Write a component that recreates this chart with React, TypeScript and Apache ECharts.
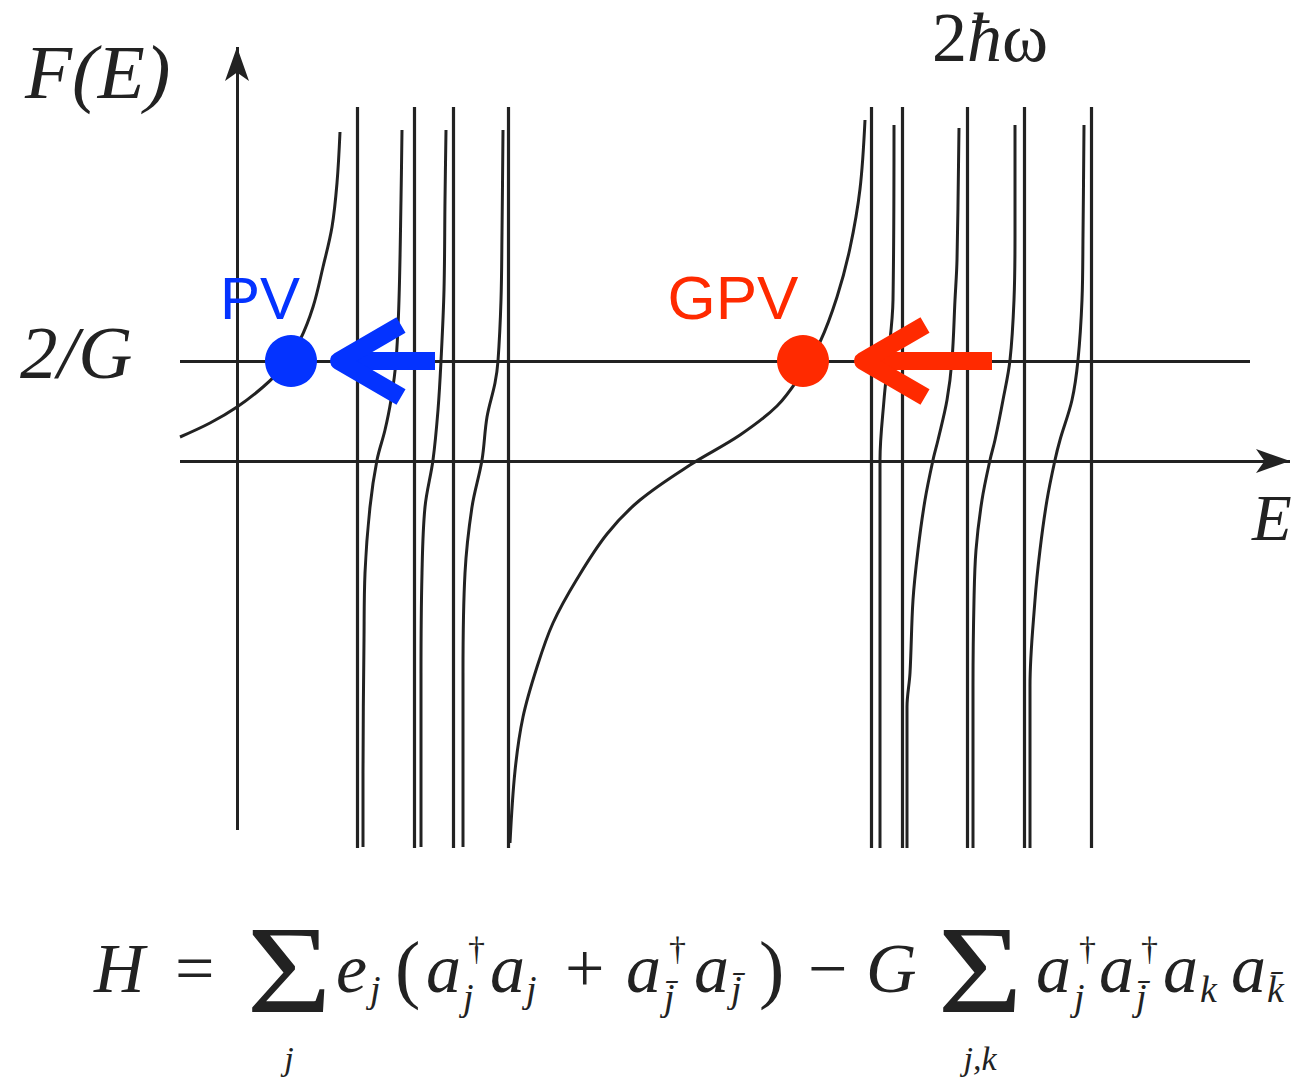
import React, { useEffect, useRef } from "react";
import * as echarts from "echarts";

// ---- data (E in units of 100 px along the energy axis, F in units where 2/G = 2) ----
const poleE = [1.2, 1.77, 2.16, 2.71, 6.34, 6.65, 7.3, 7.87, 8.54];
const poleTop = 7.08;
const poleBottom = -7.74;

const branch0 = [
  [-0.57, 0.48], [-0.27, 0.76], [0.0, 1.08], [0.26, 1.48], [0.46, 1.88], [0.63, 2.42],
  [0.76, 3.08], [0.86, 3.88], [0.95, 4.68], [1.0, 5.56], [1.03, 6.58],
];
const branch1 = [
  [1.26, -7.72], [1.26, -6.24], [1.27, -3.58], [1.28, -2.24], [1.33, -0.92], [1.4, 0.02],
  [1.48, 0.62], [1.54, 1.22], [1.59, 2.0], [1.62, 3.22], [1.64, 5.22], [1.65, 6.62],
];
const branch2 = [
  [1.84, -7.72], [1.84, -4.24], [1.85, -2.24], [1.88, -0.92], [1.96, 0.02], [2.01, 1.02],
  [2.04, 2.0], [2.07, 3.42], [2.08, 5.22], [2.09, 6.62],
];
const branch3 = [
  [2.26, -7.72], [2.26, -4.24], [2.28, -2.24], [2.35, -0.92], [2.45, 0.02], [2.5, 0.88],
  [2.58, 1.56], [2.61, 2.0], [2.64, 3.22], [2.65, 4.56], [2.66, 6.62],
];
const branch4 = [
  [2.73, -7.64], [2.78, -6.2], [2.86, -5.12], [3.0, -4.12], [3.16, -3.24], [3.4, -2.36],
  [3.7, -1.46], [4.03, -0.78], [4.53, -0.08], [5.03, 0.52], [5.4, 1.1], [5.63, 1.7],
  [5.83, 2.38], [6.0, 3.28], [6.13, 4.26], [6.23, 5.44], [6.28, 6.82],
];
const branch5 = [
  [6.43, -7.74], [6.43, -2.78], [6.43, 0.02], [6.47, 1.22], [6.51, 2.02], [6.56, 3.22],
  [6.57, 6.72],
];
const branch6 = [
  [6.7, -7.74], [6.7, -4.92], [6.73, -4.24], [6.76, -2.78], [6.81, -1.78], [6.88, -0.78],
  [6.96, 0.02], [7.01, 0.42], [7.1, 1.22], [7.15, 2.02], [7.18, 3.22], [7.2, 4.02], [7.22, 6.66],
];
const branch7 = [
  [7.36, -7.74], [7.36, -4.5], [7.37, -2.78], [7.39, -1.78], [7.45, -0.78], [7.53, 0.02],
  [7.58, 0.42], [7.66, 1.22], [7.73, 2.02], [7.77, 3.22], [7.78, 4.5], [7.78, 6.72],
];
const branch8 = [
  [7.93, -7.74], [7.93, -4.5], [7.98, -2.78], [8.03, -1.78], [8.1, -0.78], [8.18, 0.02],
  [8.23, 0.42], [8.35, 1.22], [8.41, 2.02], [8.45, 3.22], [8.46, 4.5], [8.47, 6.72],
];
const branches = [branch0, branch1, branch2, branch3, branch4, branch5, branch6, branch7, branch8];

const gapLevel = 2; // the 2/G line
const pvPoint = [0.54, 2];
const gpvPoint = [5.66, 2];
// [tail E, head E, F]
const pvArrow = [1.98, 1.02, 2];
const gpvArrow = [7.55, 6.26, 2];

const eMin = -0.6;
const eMax = 10.6;
const fMin = -8;
const fMax = 8.5;

// ---- styles ----
const INK = "#222222";
const BLUE = "#0433FF";
const RED = "#FF2A00";
const SERIF = "'Liberation Serif', 'Times New Roman', serif";
const SANS = "'Liberation Sans', Arial, sans-serif";

function txt(
  text: string,
  x: number,
  baseline: number,
  size: number,
  italic: boolean,
  align = "left",
  scaleX = 1
) {
  return {
    type: "text",
    x,
    y: baseline - 0.3375 * size,
    scaleX,
    silent: true,
    style: {
      text,
      fill: INK,
      font: `${italic ? "italic " : ""}${size}px ${SERIF}`,
      textAlign: align,
      textVerticalAlign: "middle",
      align,
      verticalAlign: "middle",
    },
  };
}

const EQ = 70;
const PAREN = 76;
const SUB = 38;
const SUP = 34;
const BIG = 124;
const LIMIT = 34;
const equation: [string, number, number, number, boolean, string?, number?][] = [
  ["H", 94, 992, EQ, true],
  ["=", 175, 992, EQ, false],
  ["\u03A3", 289, 1012, BIG, false, "center", 1.18],
  ["j", 289, 1070, LIMIT, true, "center"],
  ["e", 336, 992, EQ, true],
  ["j", 370, 1002, SUB, true],
  ["(", 395, 994, PAREN, false],
  ["a", 426, 992, EQ, true],
  ["\u2020", 468, 960, SUP, false],
  ["j", 463, 1010, SUB, true],
  ["a", 490, 992, EQ, true],
  ["j", 526, 1002, SUB, true],
  ["+", 565, 992, EQ, false],
  ["a", 626, 992, EQ, true],
  ["\u2020", 669, 960, SUP, false],
  ["j\u0304", 664, 1010, SUB, true],
  ["a", 694, 992, EQ, true],
  ["j\u0304", 731, 1002, SUB, true],
  [")", 759, 994, PAREN, false],
  ["\u2212", 808, 992, EQ, false],
  ["G", 866, 992, EQ, true],
  ["\u03A3", 980, 1012, BIG, false, "center", 1.18],
  ["j,k", 980, 1070, LIMIT, true, "center"],
  ["a", 1036, 992, EQ, true],
  ["\u2020", 1079, 960, SUP, false],
  ["j", 1074, 1010, SUB, true],
  ["a", 1099, 992, EQ, true],
  ["\u2020", 1141, 960, SUP, false],
  ["j\u0304", 1136, 1010, SUB, true],
  ["a", 1163, 992, EQ, true],
  ["k", 1200, 1002, SUB, true],
  ["a", 1231, 992, EQ, true],
  ["k\u0304", 1267, 1002, SUB, true],
];

function seg(a: number[], b: number[]) {
  return [{ coord: a }, { coord: b }];
}

export default function App() {
  const ref = useRef<HTMLDivElement>(null);
  useEffect(() => {
    document.body.style.margin = "0";
    const chart = echarts.init(ref.current!, null, { renderer: "svg" });

    const curveSeries = branches.map((b) => ({
      type: "line",
      data: b,
      smooth: 0.35,
      symbol: "none",
      silent: true,
      z: 3,
      lineStyle: { color: INK, width: 3 },
    }));

    const guideLines = [
      ...poleE.map((p) => seg([p, poleBottom], [p, poleTop])),
      seg([eMin + 0.03, gapLevel], [10.13, gapLevel]),
    ];

    chart.setOption({
      animation: false,
      backgroundColor: "#ffffff",
      grid: { left: 177, right: 1, top: 36, bottom: 217 },
      xAxis: {
        type: "value",
        min: eMin,
        max: eMax,
        axisLine: { show: false },
        axisTick: { show: false },
        axisLabel: { show: false },
        splitLine: { show: false },
      },
      yAxis: {
        type: "value",
        min: fMin,
        max: fMax,
        axisLine: { show: false },
        axisTick: { show: false },
        axisLabel: { show: false },
        splitLine: { show: false },
      },
      series: [
        {
          type: "line",
          data: [],
          silent: true,
          z: 2,
          markLine: {
            silent: true,
            symbol: "none",
            label: { show: false },
            emphasis: { disabled: true },
            lineStyle: { color: INK, width: 3.2, type: "solid" },
            data: guideLines,
          },
        },
        {
          type: "line",
          data: [],
          silent: true,
          z: 2,
          markLine: {
            silent: true,
            symbol: ["none", "arrow"],
            symbolSize: [18, 34],
            label: { show: false },
            emphasis: { disabled: true },
            lineStyle: { color: INK, width: 3, type: "solid" },
            data: [seg([eMin + 0.03, 0], [10.53, 0]), seg([0, -7.38], [0, 8.28])],
          },
        },
        ...curveSeries,
        {
          type: "custom",
          silent: true,
          z: 6,
          encode: { x: [0, 1], y: 2 },
          data: [
            { value: pvArrow, itemStyle: { color: BLUE } },
            { value: gpvArrow, itemStyle: { color: RED } },
          ],
          renderItem: (params: any, api: any) => {
            const tail = api.coord([api.value(0), api.value(2)]);
            const head = api.coord([api.value(1), api.value(2)]);
            const color = api.visual("color");
            return {
              type: "group",
              children: [
                {
                  type: "line",
                  shape: { x1: tail[0], y1: tail[1], x2: head[0] + 4, y2: head[1] },
                  style: { stroke: color, lineWidth: 18, lineCap: "butt" },
                },
                {
                  type: "polyline",
                  shape: {
                    points: [
                      [head[0] + 62, head[1] - 36],
                      [head[0], head[1]],
                      [head[0] + 62, head[1] + 36],
                    ],
                  },
                  style: { stroke: color, fill: null, lineWidth: 18, lineJoin: "round", lineCap: "butt" },
                },
              ],
            };
          },
        },
        {
          type: "scatter",
          silent: true,
          z: 7,
          symbolSize: 52,
          itemStyle: { opacity: 1 },
          data: [
            {
              value: pvPoint,
              itemStyle: { color: BLUE, opacity: 1 },
              label: {
                show: true,
                formatter: "PV",
                position: "top",
                offset: [-31, -2],
                color: BLUE,
                opacity: 1,
                fontFamily: SANS,
                fontSize: 60,
              },
            },
            {
              value: gpvPoint,
              itemStyle: { color: RED, opacity: 1 },
              label: {
                show: true,
                formatter: "GPV",
                position: "top",
                offset: [-70, -2],
                color: RED,
                opacity: 1,
                fontFamily: SANS,
                fontSize: 62,
              },
            },
          ],
        },
      ],
      graphic: [
        txt("F(E)", 25, 98, 77, true),
        txt("2/G", 20, 378, 75, true),
        txt("E", 1252, 540, 65, true),
        {
          type: "text",
          x: 932,
          y: 61 - 0.3375 * 70,
          silent: true,
          style: {
            text: "{n|2}{i|\u0127}{n|\u03C9}",
            fill: INK,
            font: `70px ${SERIF}`,
            verticalAlign: "middle",
            textVerticalAlign: "middle",
            rich: {
              n: { fontFamily: SERIF, fontSize: 70, color: INK },
              i: { fontFamily: SERIF, fontSize: 70, fontStyle: "italic", color: INK },
            },
          },
        },
        ...equation.map(([t, x, b, s, it, al, sx]) => txt(t, x, b, s, it, al || "left", sx || 1)),
      ],
    });

    return () => chart.dispose();
  }, []);

  return <div ref={ref} style={{ width: 1298, height: 1078 }} />;
}
